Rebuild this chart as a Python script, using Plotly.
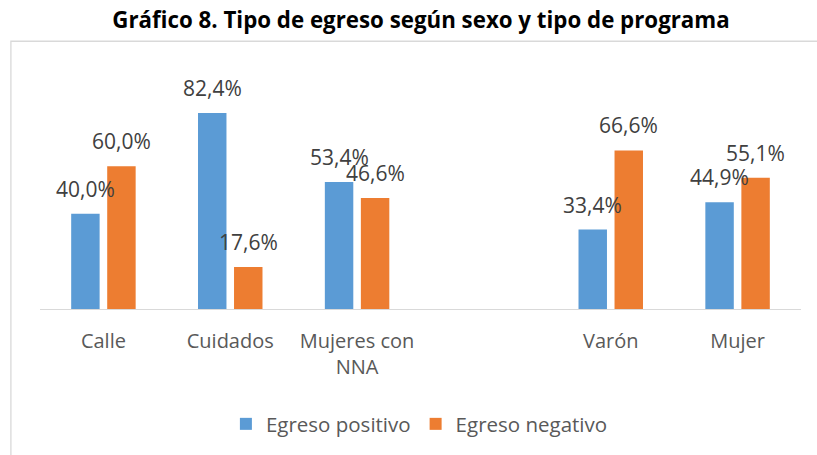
import plotly.graph_objects as go

categories = ["Calle", "Cuidados", "Mujeres con<br>NNA", " ", "Varón", "Mujer"]
positivo = [40.0, 82.4, 53.4, None, 33.4, 44.9]
negativo = [60.0, 17.6, 46.6, None, 66.6, 55.1]
series_names = ["Egreso positivo", "Egreso negativo"]
colors = ["#5B9BD5", "#ED7D31"]
title = "<b>Gráfico 8. Tipo de egreso según sexo y tipo de programa</b>"

FONT = "Open Sans"
W, H = 817, 455
L, R, T, B = 39.6, 16.4, 70.5, 144.5
pw = W - L - R
ph = H - T - B

fig = go.Figure()
for name, vals, col in zip(series_names, [positivo, negativo], colors):
    fig.add_trace(go.Bar(x=categories, y=vals, name=name, marker=dict(color=col, line=dict(width=0)),
                         hoverinfo="skip"))

# data labels
for i, (vals, shift) in enumerate([(positivo, -18), (negativo, 18)]):
    for c, v in zip(categories, vals):
        if v is None:
            continue
        fig.add_annotation(x=c, y=v, xref="x", yref="y", text=f"{v:.1f}".replace(".", ",") + "%",
                           showarrow=False, xshift=shift, yshift=25, yanchor="middle", xanchor="center",
                           font=dict(family=FONT, size=21, color="#404040"))

# chart frame (left and top border)
def px2paper_x(px):
    return (px - L) / pw

def px2paper_y(py):
    return (H - B - py) / ph

fig.add_shape(type="rect", xref="paper", yref="paper",
              x0=px2paper_x(10.5), x1=px2paper_x(840), y0=px2paper_y(40.5), y1=px2paper_y(480),
              line=dict(color="#D9D9D9", width=1.3), fillcolor="rgba(0,0,0,0)", layer="below")

fig.update_layout(
    width=W, height=H,
    margin=dict(l=L, r=R, t=T, b=B, pad=0),
    paper_bgcolor="white", plot_bgcolor="white",
    barmode="group", bargap=0.432, bargroupgap=0.21,
    title=dict(text=title, x=421 / W, xanchor="center", y=1 - 20 / H, yanchor="middle",
               font=dict(family=FONT, size=22.3, color="#000000")),
    xaxis=dict(type="category", categoryorder="array", categoryarray=categories,
               showline=True, linecolor="#D9D9D9", linewidth=1.3, showgrid=False, zeroline=False,
               ticks="outside", ticklen=14, tickcolor="rgba(0,0,0,0)",
               tickfont=dict(family=FONT, size=20, color="#595959")),
    yaxis=dict(range=[0, 100], visible=False, showgrid=False, zeroline=False),
    showlegend=True,
    legend=dict(orientation="h", x=px2paper_x(419), xanchor="center", y=px2paper_y(425), yanchor="middle",
                font=dict(family=FONT, size=20.5, color="#595959"), itemsizing="constant"),
)

fig.write_html("out.html", config={"displayModeBar": False},
               post_script="document.body.style.margin='0';document.body.style.padding='0';")
